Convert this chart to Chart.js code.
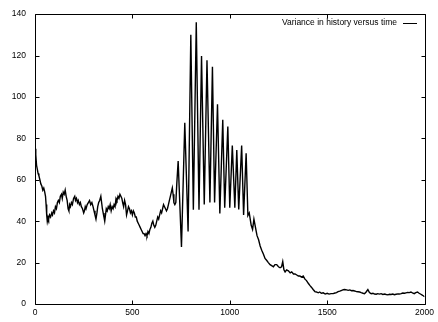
<!DOCTYPE html>
<html>
<head>
<meta charset="utf-8">
<script src="https://cdn.jsdelivr.net/npm/chart.js@4.4.1/dist/chart.umd.min.js"></script>
<style>
  html, body { margin: 0; padding: 0; background: #fff; }
  #wrap { width: 438px; height: 322px; }
</style>
</head>
<body>
<div id="wrap"><canvas id="chart" width="438" height="322"></canvas></div>
<script>
const seriesLabel = 'Variance in history versus time';
const xTicks = [0, 500, 1000, 1500, 2000];
const yTicks = [0, 20, 40, 60, 80, 100, 120, 140];

const steps = [
    0, 4, 8, 12, 16, 20, 25, 30, 35, 40, 45, 50, 54, 57, 60, 63, 67, 70, 75, 80,
    86, 90, 95, 100, 105, 110, 115, 120, 125, 130, 136, 140, 145, 150, 155, 160, 165, 170, 174, 178,
    182, 187, 192, 198, 204, 208, 213, 218, 222, 228, 233, 238, 244, 250, 254, 258, 262, 268, 274, 280,
    286, 292, 298, 303, 308, 313, 318, 322, 327, 332, 338, 342, 346, 350, 354, 358, 362, 366, 371, 376,
    381, 386, 391, 396, 401, 406, 411, 416, 421, 426, 431, 436, 441, 446, 450, 455, 460, 465, 470, 475,
    480, 485, 490, 495, 500, 505, 510, 515, 520, 525, 530, 535, 540, 545, 550, 555, 560, 565, 570, 575,
    580, 585, 590, 595, 600, 605, 610, 615, 620, 625, 630, 635, 640, 645, 650, 655, 660, 665, 670, 675,
    680, 685, 690, 695, 700, 705, 709, 713, 718, 723, 728, 735, 752, 769, 786, 800, 813, 828, 842, 855,
    869, 883, 898, 911, 922, 937, 949, 964, 974, 990, 1000, 1013, 1026, 1036, 1046, 1061, 1071, 1084, 1093, 1100,
    1110, 1117, 1124, 1130, 1136, 1140, 1148, 1156, 1164, 1173, 1181, 1190, 1198, 1207, 1215, 1224, 1232, 1241, 1250, 1258,
    1266, 1272, 1278, 1284, 1292, 1301, 1310, 1318, 1327, 1335, 1344, 1352, 1360, 1369, 1377, 1386, 1394, 1403, 1411, 1420,
    1428, 1437, 1445, 1454, 1462, 1470, 1480, 1490, 1500, 1510, 1520, 1531, 1540, 1548, 1556, 1565, 1575, 1583, 1590, 1600,
    1608, 1616, 1625, 1633, 1641, 1650, 1658, 1667, 1675, 1684, 1692, 1700, 1709, 1717, 1726, 1735, 1743, 1752, 1760, 1768,
    1777, 1786, 1795, 1803, 1812, 1820, 1828, 1837, 1845, 1854, 1863, 1871, 1880, 1888, 1897, 1905, 1913, 1922, 1930, 1938,
    1947, 1955, 1964, 1972, 1981, 1990, 2000
];

const variance = [
    75, 72, 67, 65, 63, 62, 60, 58, 57, 55, 56, 54, 52, 48, 43, 40, 42, 41, 43, 42,
    44, 43, 45, 44, 47, 46, 49, 50, 49, 52, 53, 51, 54, 53, 55, 52, 50, 46, 45, 48,
    47, 49, 48, 51, 52, 50, 51, 49, 50, 48, 49, 47, 46, 44, 45, 47, 46, 48, 49, 50,
    48, 49, 47, 45, 43, 41, 44, 47, 49, 50, 52, 49, 46, 44, 42, 40, 43, 46, 45, 47,
    46, 48, 45, 47, 46, 48, 47, 51, 50, 52, 51, 53, 52, 51, 49, 47, 50, 48, 43, 45,
    47, 46, 44, 45, 43, 45, 44, 42, 42, 40, 39, 38, 37, 36, 35, 34, 34, 33, 34, 33,
    35, 34, 36, 37, 39, 40, 38, 37, 38, 40, 42, 41, 43, 45, 44, 46, 48, 47, 46, 45,
    46, 48, 50, 52, 54, 56, 53, 49, 48, 49, 58, 69, 27.5, 87.5, 35, 130, 45.5, 136, 45.5, 119.8,
    48, 117.7, 49, 114.6, 49, 96.5, 43.7, 89, 46.5, 85.7, 46.5, 76.5, 46.5, 74.3, 45.7, 76.5, 43, 72.8, 42.7, 44,
    38, 36, 41, 38, 35, 33, 31, 28, 26, 24, 22, 21, 20, 19, 18.5, 18, 19, 19, 18, 17.5,
    18, 20.5, 16.5, 15.5, 16.5, 16, 15, 15.5, 14.5, 14.5, 14, 13.5, 13.5, 13, 13.5, 12, 11.3, 10, 9, 8,
    7, 6, 5.8, 5.4, 5.8, 5.2, 5.4, 4.8, 5.2, 4.8, 5, 5, 5.3, 5.5, 6, 6.2, 6.6, 6.9, 7, 6.8,
    6.6, 6.8, 6.4, 6.5, 6.3, 6, 5.9, 5.8, 5.5, 5.2, 5, 5.8, 7, 5.5, 5, 5.2, 4.8, 4.7, 5, 4.8,
    5, 4.6, 4.8, 4.6, 4.4, 4.7, 4.6, 4.8, 4.5, 4.7, 4.9, 4.8, 5, 5.3, 5.2, 5.4, 5.6, 5.5, 5.8, 5.4,
    5, 5.5, 5.8, 5.2, 4.7, 4.2, 3.5
];

const FAMILY = '"Liberation Sans", Arial, sans-serif';
const FONT_SIZE = 8.5;

// frame, inward ticks on all four sides and the key in the top right corner
const gnuplotFrame = {
    id: 'gnuplotFrame',
    afterDraw(chart) {
        const { ctx, chartArea: a, scales } = chart;
        const L = Math.round(a.left) + 0.5, R = Math.round(a.right) + 0.5;
        const T = Math.round(a.top) + 0.5, B = Math.round(a.bottom) + 0.5;
        ctx.save();
        ctx.strokeStyle = '#000';
        ctx.lineWidth = 1;
        ctx.beginPath();
        ctx.rect(L, T, R - L, B - T);
        xTicks.forEach(v => {
            const px = Math.round(scales.x.getPixelForValue(v)) + 0.5;
            ctx.moveTo(px, B); ctx.lineTo(px, B - 4);
            ctx.moveTo(px, T); ctx.lineTo(px, T + 4);
        });
        yTicks.forEach(v => {
            const py = Math.round(scales.y.getPixelForValue(v)) + 0.5;
            ctx.moveTo(L, py); ctx.lineTo(L + 4, py);
            ctx.moveTo(R, py); ctx.lineTo(R - 4, py);
        });
        ctx.stroke();

        // key
        ctx.font = FONT_SIZE + 'px ' + FAMILY;
        ctx.fillStyle = '#000';
        ctx.textAlign = 'right';
        ctx.textBaseline = 'middle';
        ctx.fillText(chart.data.datasets[0].label, 397, 23);
        ctx.beginPath();
        ctx.moveTo(403, 23.5);
        ctx.lineTo(417, 23.5);
        ctx.stroke();
        ctx.restore();
    }
};

new Chart(document.getElementById('chart').getContext('2d'), {
    type: 'line',
    data: {
        datasets: [{
            label: seriesLabel,
            data: steps.map((s, i) => ({ x: s, y: variance[i] })),
            borderColor: '#000',
            borderWidth: 1.4,
            pointRadius: 0,
            tension: 0,
            fill: false
        }]
    },
    options: {
        responsive: false,
        animation: false,
        layout: { padding: { top: 8, right: 11, left: 0, bottom: 0 } },
        plugins: { legend: { display: false }, tooltip: { enabled: false } },
        scales: {
            x: {
                type: 'linear',
                min: 0,
                max: 2000,
                afterBuildTicks: s => { s.ticks = xTicks.map(v => ({ value: v })); },
                afterFit: s => { s.height = 18; },
                grid: { display: false, drawTicks: false },
                border: { display: false },
                ticks: {
                    padding: 4, color: '#000', maxRotation: 0,
                    font: { family: FAMILY, size: FONT_SIZE },
                    callback: v => String(v)
                }
            },
            y: {
                min: 0,
                max: 140,
                afterBuildTicks: s => { s.ticks = yTicks.map(v => ({ value: v })); },
                afterFit: s => { s.width = 35; },
                grid: { display: false, drawTicks: false },
                border: { display: false },
                ticks: {
                    padding: 9, color: '#000',
                    font: { family: FAMILY, size: FONT_SIZE },
                    callback: v => String(v)
                }
            }
        }
    },
    plugins: [gnuplotFrame]
});
</script>
</body>
</html>
